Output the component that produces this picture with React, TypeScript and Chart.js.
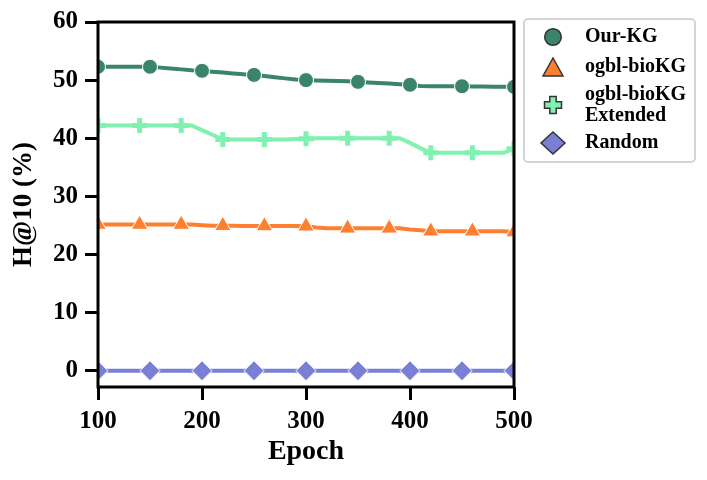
import React, { useEffect, useRef } from "react";
import { Chart, registerables } from "chart.js";
Chart.register(...registerables);

const epochs = [100, 110, 120, 130, 140, 150, 160, 170, 180, 190, 200, 210, 220, 230, 240, 250, 260, 270, 280, 290, 300, 310, 320, 330, 340, 350, 360, 370, 380, 390, 400, 410, 420, 430, 440, 450, 460, 470, 480, 490, 500];
const ourKG = [52.3, 52.3, 52.3, 52.3, 52.3, 52.3, 52.15, 52.0, 51.85, 51.7, 51.6, 51.45, 51.3, 51.15, 51.0, 50.9, 50.7, 50.5, 50.3, 50.1, 50.0, 49.95, 49.9, 49.85, 49.8, 49.7, 49.6, 49.5, 49.4, 49.3, 49.2, 49.0, 48.95, 48.95, 48.95, 48.95, 48.9, 48.9, 48.85, 48.85, 48.85];
const bioKG = [25.15, 25.15, 25.15, 25.15, 25.15, 25.15, 25.15, 25.15, 25.15, 25.15, 25.05, 24.95, 24.95, 24.95, 24.9, 24.9, 24.9, 24.9, 24.9, 24.9, 24.85, 24.65, 24.5, 24.5, 24.5, 24.5, 24.5, 24.5, 24.5, 24.5, 24.3, 24.15, 24.0, 24.0, 24.0, 24.0, 24.0, 24.0, 24.0, 24.0, 23.85];
const bioKGExt = [42.2, 42.2, 42.2, 42.2, 42.2, 42.2, 42.2, 42.2, 42.2, 42.2, 41.4, 40.6, 39.8, 39.8, 39.8, 39.8, 39.8, 39.8, 39.8, 39.85, 39.9, 40.0, 40.0, 40.0, 40.0, 40.0, 40.0, 40.0, 40.0, 40.0, 39.2, 38.3, 37.5, 37.5, 37.5, 37.5, 37.5, 37.5, 37.5, 37.5, 38.2];
const randomKG = [0, 0, 0, 0, 0, 0, 0, 0, 0, 0, 0, 0, 0, 0, 0, 0, 0, 0, 0, 0, 0, 0, 0, 0, 0, 0, 0, 0, 0, 0, 0, 0, 0, 0, 0, 0, 0, 0, 0, 0, 0];
const xTicks = [100, 200, 300, 400, 500];
const yTicks = [0, 10, 20, 30, 40, 50, 60];
const seriesNames = ["Our-KG", "ogbl-bioKG", "ogbl-bioKG\nExtended", "Random"];

const COLORS = ["#3a8469", "#fd7f30", "#80f1b0", "#7a7fd6"];
const FONT = "'Liberation Serif', 'DejaVu Serif', serif";

const toPts = (vals: number[]) => epochs.map((e, i) => ({ x: e, y: vals[i] }));

const legendPlugin = {
  id: "customLegend",
  afterDraw(chart: any) {
    const ctx = chart.ctx as CanvasRenderingContext2D;
    ctx.save();
    const bx = 524, by = 19, bw = 171, bh = 143, r = 4;
    ctx.beginPath();
    ctx.moveTo(bx + r, by);
    ctx.lineTo(bx + bw - r, by);
    ctx.arcTo(bx + bw, by, bx + bw, by + r, r);
    ctx.lineTo(bx + bw, by + bh - r);
    ctx.arcTo(bx + bw, by + bh, bx + bw - r, by + bh, r);
    ctx.lineTo(bx + r, by + bh);
    ctx.arcTo(bx, by + bh, bx, by + bh - r, r);
    ctx.lineTo(bx, by + r);
    ctx.arcTo(bx, by, bx + r, by, r);
    ctx.closePath();
    ctx.fillStyle = "rgba(255,255,255,0.9)";
    ctx.fill();
    ctx.strokeStyle = "#d4d4d4";
    ctx.lineWidth = 2;
    ctx.stroke();

    const mx = 553;
    const rows = [37, 67, 105, 143];
    ctx.strokeStyle = "#333333";
    ctx.lineWidth = 1.5;
    ctx.beginPath();
    ctx.arc(mx, rows[0], 8.3, 0, Math.PI * 2);
    ctx.fillStyle = COLORS[0];
    ctx.fill();
    ctx.stroke();
    ctx.beginPath();
    ctx.moveTo(mx, rows[1] - 9);
    ctx.lineTo(mx + 10, rows[1] + 9);
    ctx.lineTo(mx - 10, rows[1] + 9);
    ctx.closePath();
    ctx.fillStyle = COLORS[1];
    ctx.fill();
    ctx.stroke();
    const a = 3.2, e = 8.5, cy = rows[2];
    ctx.beginPath();
    ctx.moveTo(mx - a, cy - e);
    ctx.lineTo(mx + a, cy - e);
    ctx.lineTo(mx + a, cy - a);
    ctx.lineTo(mx + e, cy - a);
    ctx.lineTo(mx + e, cy + a);
    ctx.lineTo(mx + a, cy + a);
    ctx.lineTo(mx + a, cy + e);
    ctx.lineTo(mx - a, cy + e);
    ctx.lineTo(mx - a, cy + a);
    ctx.lineTo(mx - e, cy + a);
    ctx.lineTo(mx - e, cy - a);
    ctx.lineTo(mx - a, cy - a);
    ctx.closePath();
    ctx.fillStyle = COLORS[2];
    ctx.fill();
    ctx.stroke();
    ctx.beginPath();
    ctx.moveTo(mx, rows[3] - 11);
    ctx.lineTo(mx + 12, rows[3]);
    ctx.lineTo(mx, rows[3] + 11);
    ctx.lineTo(mx - 12, rows[3]);
    ctx.closePath();
    ctx.fillStyle = COLORS[3];
    ctx.fill();
    ctx.stroke();

    ctx.fillStyle = "#000";
    ctx.font = `bold 20px ${FONT}`;
    ctx.textAlign = "left";
    ctx.textBaseline = "middle";
    const tx = 585;
    seriesNames.forEach((name, i) => {
      const lines = name.split("\n");
      const lh = 21;
      const y0 = rows[i] - ((lines.length - 1) * lh) / 2;
      lines.forEach((ln, j) => ctx.fillText(ln, tx, y0 + j * lh));
    });
    ctx.restore();
  },
};

const framePlugin = {
  id: "frame",
  afterDatasetsDraw(chart: any) {
    const { ctx, chartArea } = chart;
    ctx.save();
    ctx.strokeStyle = "#000";
    ctx.lineWidth = 3;
    ctx.strokeRect(chartArea.left, chartArea.top, chartArea.right - chartArea.left, chartArea.bottom - chartArea.top);
    ctx.restore();
  },
};

export default function App() {
  const ref = useRef<HTMLCanvasElement | null>(null);
  useEffect(() => {
    if (!ref.current) return;
    const every = (n: number, r: number) => (c: any) => (c.dataIndex % n === 0 ? r : 0);
    const chart = new Chart(ref.current, {
      type: "line",
      data: {
        datasets: [
          {
            label: seriesNames[0],
            data: toPts(ourKG),
            borderColor: COLORS[0],
            backgroundColor: COLORS[0],
            borderWidth: 4,
            pointStyle: "circle",
            pointRadius: every(5, 7.5),
            pointBorderColor: "#ffffff",
            pointBorderWidth: 1,
            clip: 0,
          },
          {
            label: seriesNames[1],
            data: toPts(bioKG),
            borderColor: COLORS[1],
            backgroundColor: COLORS[1],
            borderWidth: 4,
            pointStyle: "triangle",
            pointRadius: every(4, 9.5),
            pointBorderColor: "#ffffff",
            pointBorderWidth: 1,
            clip: 0,
          },
          {
            label: seriesNames[2],
            data: toPts(bioKGExt),
            borderColor: COLORS[2],
            backgroundColor: COLORS[2],
            borderWidth: 4,
            pointStyle: "cross",
            pointRadius: every(4, 7.5),
            pointBorderColor: COLORS[2],
            pointBorderWidth: 5,
            clip: 0,
          },
          {
            label: seriesNames[3],
            data: toPts(randomKG),
            borderColor: COLORS[3],
            backgroundColor: COLORS[3],
            borderWidth: 4,
            pointStyle: "rectRot",
            pointRadius: every(5, 10),
            pointBorderColor: "#ffffff",
            pointBorderWidth: 1,
            clip: 0,
          },
        ],
      },
      options: {
        responsive: false,
        animation: false,
        events: [],
        layout: { padding: { top: 22, right: 193, left: 0, bottom: 0 } },
        plugins: { legend: { display: false }, tooltip: { enabled: false } },
        elements: { line: { tension: 0 } },
        scales: {
          x: {
            type: "linear",
            min: 100,
            max: 500,
            afterBuildTicks: (axis: any) => {
              axis.ticks = xTicks.map((v) => ({ value: v }));
            },
            afterFit: (axis: any) => {
              axis.height = 93;
            },
            border: { display: false },
            grid: { drawOnChartArea: false, drawTicks: true, tickLength: 13, tickWidth: 3, tickColor: "#000" },
            ticks: { color: "#000", padding: 7, font: { family: FONT, size: 25, weight: "bold" }, maxRotation: 0 },
            title: {
              display: true,
              text: "Epoch",
              color: "#000",
              font: { family: FONT, size: 28, weight: "bold" },
              padding: { top: 0, bottom: 11 },
            },
          },
          y: {
            type: "linear",
            min: -2.8,
            max: 60,
            afterBuildTicks: (axis: any) => {
              axis.ticks = yTicks.map((v) => ({ value: v }));
            },
            afterFit: (axis: any) => {
              axis.width = 98;
            },
            border: { display: false },
            grid: { drawOnChartArea: false, drawTicks: true, tickLength: 13, tickWidth: 3, tickColor: "#000" },
            ticks: { color: "#000", padding: 7, font: { family: FONT, size: 25, weight: "bold" } },
            title: {
              display: true,
              text: "H@10 (%)",
              color: "#000",
              font: { family: FONT, size: 27, weight: "bold" },
              padding: { top: 8, bottom: 0 },
            },
          },
        },
      },
      plugins: [framePlugin, legendPlugin],
    } as any);
    return () => chart.destroy();
  }, []);
  return (
    <div style={{ position: "fixed", left: 0, top: 0, width: 707, height: 480, background: "#fff" }}>
      <canvas ref={ref} width={707} height={480} style={{ width: 707, height: 480, display: "block" }} />
    </div>
  );
}
